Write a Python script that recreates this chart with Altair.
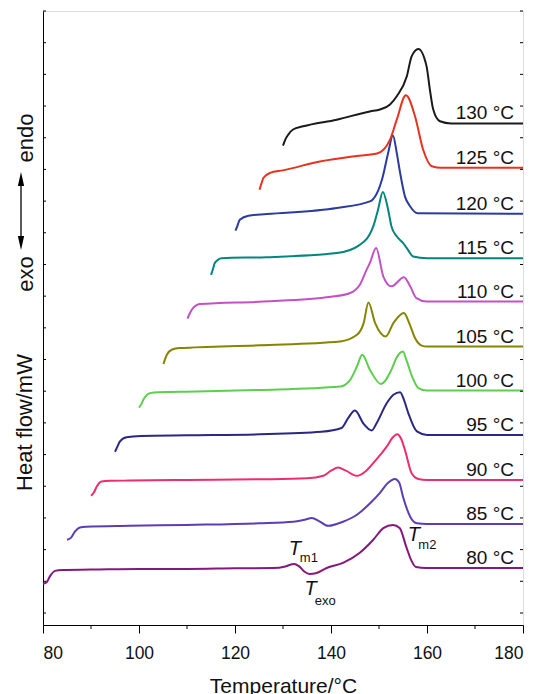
import altair as alt
import pandas as pd

FONT = "Liberation Sans"

# ---- curve data: temperature (°C) and heat flow (arbitrary units, 1 unit = 1 y tick) ----
t80 = [80, 80.8, 81.5, 82.5, 84, 90, 100, 110, 120, 128, 130.5, 132.3, 133.3, 134.5, 135.5, 137, 139.1, 142.5, 146, 148.8, 150.9, 152.9, 154.3, 155.7, 156.7, 157.7, 159.8, 170, 180]
h80 = [0.92, 0.98, 1.17, 1.33, 1.36, 1.37, 1.39, 1.39, 1.41, 1.42, 1.47, 1.55, 1.48, 1.30, 1.23, 1.26, 1.42, 1.58, 1.90, 2.31, 2.68, 2.78, 2.68, 2.08, 1.67, 1.45, 1.42, 1.42, 1.42]

t85 = [85, 85.8, 86.6, 87.7, 89, 98, 110, 125, 132.2, 134.5, 136, 137.5, 139.4, 142.5, 145.4, 148.2, 150.2, 151.9, 153.3, 154.2, 155, 156.5, 157.9, 160, 180]
h85 = [2.31, 2.37, 2.56, 2.70, 2.72, 2.75, 2.78, 2.83, 2.88, 2.94, 3.00, 2.90, 2.75, 2.88, 3.10, 3.47, 3.79, 4.11, 4.23, 4.12, 3.67, 3.04, 2.83, 2.81, 2.81]

t90 = [90, 90.6, 91.2, 92.2, 94, 98, 110, 125.2, 135, 138.4, 140, 141.5, 143, 145.4, 147.1, 148.8, 150.2, 151.6, 152.8, 153.8, 154.6, 155.4, 156.8, 158.2, 160, 180]
h90 = [3.70, 3.80, 3.99, 4.15, 4.17, 4.18, 4.20, 4.22, 4.25, 4.33, 4.49, 4.59, 4.50, 4.33, 4.46, 4.73, 4.98, 5.25, 5.53, 5.64, 5.50, 5.15, 4.41, 4.23, 4.20, 4.20]

t95 = [95, 95.5, 96, 97.4, 100.4, 110, 125.2, 138, 142.2, 143.6, 145, 146.8, 148.5, 149.5, 151.6, 153, 154.4, 155.2, 156.1, 157.9, 160, 180]
h95 = [5.09, 5.25, 5.41, 5.55, 5.59, 5.61, 5.64, 5.72, 5.84, 6.16, 6.39, 5.97, 5.76, 5.99, 6.62, 6.89, 6.97, 6.73, 6.31, 5.73, 5.62, 5.62]

t100 = [100, 100.5, 100.9, 102.3, 104, 112, 125.2, 141.9, 144, 145.4, 146.5, 148.1, 150.4, 152.6, 153.6, 155, 155.7, 156.9, 158.2, 160, 180]
h100 = [6.48, 6.60, 6.73, 6.94, 6.97, 6.99, 7.04, 7.15, 7.36, 7.78, 8.15, 7.68, 7.23, 7.68, 8.04, 8.25, 7.99, 7.46, 7.10, 7.02, 7.02]

t105 = [105.1, 105.8, 106.8, 108.5, 125.2, 141.9, 145.4, 146.8, 147.8, 149.2, 151.4, 153, 155.2, 156.3, 157.5, 158.9, 160, 180]
h105 = [7.86, 8.15, 8.31, 8.36, 8.45, 8.57, 8.78, 9.15, 9.80, 9.15, 8.73, 9.15, 9.47, 9.15, 8.68, 8.44, 8.41, 8.41]

t110 = [110.1, 110.5, 111, 112.7, 125.9, 140, 144, 146, 147.4, 148.1, 149.4, 150.9, 152.6, 155.2, 156.5, 157.8, 160, 180]
h110 = [9.29, 9.43, 9.57, 9.75, 9.83, 9.98, 10.10, 10.36, 10.83, 11.05, 11.52, 10.62, 10.31, 10.60, 10.31, 9.94, 9.83, 9.83]

t115 = [115, 115.4, 115.8, 117.2, 126.6, 141.2, 146, 148.8, 149.8, 150.8, 151.9, 152.6, 153.7, 155, 156, 157.1, 160, 180]
h115 = [10.67, 10.85, 11.05, 11.20, 11.23, 11.36, 11.62, 12.20, 12.73, 13.29, 12.73, 12.20, 11.89, 11.68, 11.47, 11.25, 11.20, 11.20]

t120 = [120.1, 120.5, 121, 122.8, 126.6, 141.2, 148.1, 150.8, 151.9, 152.9, 153.7, 154.4, 155.4, 156.5, 158, 180]
h120 = [12.07, 12.22, 12.41, 12.54, 12.59, 12.78, 12.99, 13.78, 14.52, 15.07, 14.52, 13.89, 13.15, 12.83, 12.62, 12.60]

t125 = [125.1, 125.5, 125.9, 127.3, 130, 137.7, 144.6, 149.6, 152.3, 153.7, 155.6, 157.5, 159.2, 161, 163, 180]
h125 = [13.36, 13.55, 13.73, 13.89, 13.97, 14.25, 14.41, 14.50, 14.94, 15.57, 16.34, 15.68, 14.62, 14.10, 14.05, 14.05]

t130 = [130, 130.5, 131.1, 132.1, 134.2, 141.2, 148.1, 150.2, 152.3, 153.7, 155.8, 156.8, 158.2, 159.9, 160.6, 161.3, 162.7, 165, 180]
h130 = [14.75, 14.95, 15.10, 15.26, 15.36, 15.57, 15.83, 15.89, 16.05, 16.31, 16.94, 17.57, 17.80, 17.26, 16.52, 15.89, 15.52, 15.45, 15.45]

curve_names = ["80 °C", "85 °C", "90 °C", "95 °C", "100 °C", "105 °C",
               "110 °C", "115 °C", "120 °C", "125 °C", "130 °C"]
curve_colors = ["#85187f", "#5b3db5", "#ee2d6d", "#2a2785", "#5ccf4c", "#858500",
                "#c451c4", "#00867e", "#2b3b9f", "#e8321e", "#1a1a1a"]
series = [(t80, h80), (t85, h85), (t90, h90), (t95, h95), (t100, h100), (t105, h105),
          (t110, h110), (t115, h115), (t120, h120), (t125, h125), (t130, h130)]

x_major = [80, 100, 120, 140, 160, 180]
x_minor = [90, 110, 130, 150, 170]
y_ticks = list(range(0, 20))

# annotations (anchor in data coordinates)
ann_main = ["T", "T", "T"]
ann_main_T = [131.2, 134.5, 156.0]
ann_main_h = [1.83, 0.57, 2.27]
ann_sub = ["m1", "exo", "m2"]
ann_sub_T = [133.5, 136.6, 158.2]
ann_sub_h = [1.61, 0.25, 2.02]

# ---- tables ----
rows = []
for name, (ts, hs) in zip(curve_names, series):
    for t, h in zip(ts, hs):
        rows.append({"T": t, "hf": h, "curve": name})
df = pd.DataFrame(rows)
labels_df = pd.DataFrame({"curve": curve_names, "T": [ts[-1] for ts, _ in series],
                          "hf": [hs[-1] for _, hs in series]})
main_df = pd.DataFrame({"txt": ann_main, "T": ann_main_T, "hf": ann_main_h})
sub_df = pd.DataFrame({"txt": ann_sub, "T": ann_sub_T, "hf": ann_sub_h})
minor_df = pd.DataFrame({"v": x_minor})
yt_df = pd.DataFrame({"v": y_ticks})
one = pd.DataFrame({"a": [0]})

W, H = 480, 614
xs = alt.Scale(domain=[80, 180], nice=False, zero=False)
ys = alt.Scale(domain=[-0.379, 19], nice=False, zero=False)

x_axis = alt.Axis(values=x_major, tickSize=8, tickColor="black", tickWidth=1,
                  domainColor="black", domainWidth=1, labelFont=FONT, labelFontSize=17.5,
                  labelColor="#111", labelBaseline="alphabetic", labelPadding=25,
                  title="Temperature/°C", titleFont=FONT, titleFontSize=21,
                  titleFontWeight="normal", titleColor="#111", titleBaseline="alphabetic",
                  titleY=67, grid=False)
y_axis = alt.Axis(labels=False, ticks=False, grid=False, domainColor="black", domainWidth=1,
                  title="Heat flow/mW", titleFont=FONT, titleFontSize=22,
                  titleFontWeight="normal", titleColor="#111", titleBaseline="middle",
                  titleX=-19, titleY=411, titleAlign="center")

lines = alt.Chart(df).mark_line(interpolate="monotone", strokeWidth=2).encode(
    x=alt.X("T:Q", scale=xs, axis=x_axis),
    y=alt.Y("hf:Q", scale=ys, axis=y_axis),
    color=alt.Color("curve:N", scale=alt.Scale(domain=curve_names, range=curve_colors), legend=None),
)

labels = alt.Chart(labels_df).mark_text(align="right", baseline="alphabetic", dx=-9, dy=-4,
                                        font=FONT, fontSize=19, color="#111").encode(
    x=alt.X("T:Q", scale=xs), y=alt.Y("hf:Q", scale=ys), text="curve:N")

ann1 = alt.Chart(main_df).mark_text(align="left", baseline="alphabetic", font=FONT, fontSize=20,
                                    fontStyle="italic", color="#111").encode(
    x=alt.X("T:Q", scale=xs), y=alt.Y("hf:Q", scale=ys), text="txt:N")
ann2 = alt.Chart(sub_df).mark_text(align="left", baseline="alphabetic", font=FONT, fontSize=13,
                                   color="#111").encode(
    x=alt.X("T:Q", scale=xs), y=alt.Y("hf:Q", scale=ys), text="txt:N")

minor = alt.Chart(minor_df).mark_rule(color="black", strokeWidth=1).encode(
    x=alt.X("v:Q", scale=xs), y=alt.value(H), y2=alt.value(H + 4))
yt_left = alt.Chart(yt_df).mark_rule(color="black", strokeWidth=1).encode(
    y=alt.Y("v:Q", scale=ys), x=alt.value(0), x2=alt.value(3))
yt_right = alt.Chart(yt_df).mark_rule(color="black", strokeWidth=1).encode(
    y=alt.Y("v:Q", scale=ys), x=alt.value(W - 3), x2=alt.value(W))

endo = alt.Chart(one).mark_text(angle=270, font=FONT, fontSize=22, color="#111",
                                align="center", baseline="middle").encode(
    x=alt.value(-17), y=alt.value(127), text=alt.value("endo"))
exo = alt.Chart(one).mark_text(angle=270, font=FONT, fontSize=22, color="#111",
                               align="center", baseline="middle").encode(
    x=alt.value(-17), y=alt.value(263), text=alt.value("exo"))
arrow_line = alt.Chart(one).mark_rule(color="black", strokeWidth=1.3).encode(
    x=alt.value(-22), y=alt.value(166), y2=alt.value(234))
arrow_up = alt.Chart(one).mark_point(shape="M0,-1L0.45,1L-0.45,1Z", filled=True, size=196,
                                     color="black", opacity=1, strokeWidth=0).encode(
    x=alt.value(-22), y=alt.value(168))
arrow_dn = alt.Chart(one).mark_point(shape="M0,1L0.45,-1L-0.45,-1Z", filled=True, size=196,
                                     color="black", opacity=1, strokeWidth=0).encode(
    x=alt.value(-22), y=alt.value(232))

chart = alt.layer(lines, labels, ann1, ann2, minor, yt_left, yt_right,
                  endo, exo, arrow_line, arrow_up, arrow_dn).properties(
    width=W, height=H,
    autosize=alt.AutoSizeParams(type="none"),
    padding={"left": 43, "top": 11, "right": 16, "bottom": 69},
).configure_view(stroke="black", strokeWidth=1).configure(background="white")

chart.save("out.html", embed_options={"renderer": "svg", "actions": False})
